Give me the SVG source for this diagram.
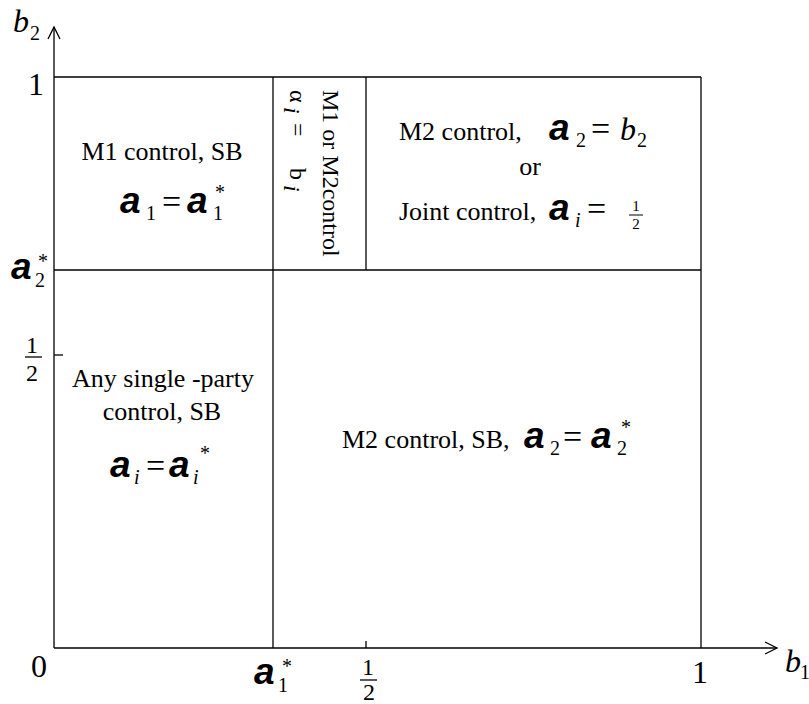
<svg xmlns="http://www.w3.org/2000/svg" width="809" height="704" viewBox="0 0 809 704">
<style>
.t{font-family:"Liberation Serif","Times New Roman","DejaVu Serif",serif;font-size:26px;fill:#000}
.ax{font-family:"Liberation Serif","Times New Roman",serif;font-size:32px;fill:#000}
.it{font-style:italic}
.m{font-family:"Liberation Sans",Arial,sans-serif;font-weight:bold;font-style:italic;font-size:37px;fill:#000}
.sub{font-family:"Liberation Serif","Times New Roman",serif;font-size:20px;fill:#000}
.eq{font-family:"Liberation Serif","Times New Roman",serif;font-size:34px;fill:#000}
.fr{font-family:"Liberation Serif","Times New Roman",serif;font-size:24px;fill:#000}
.ln{fill:none;stroke:#000;stroke-width:1.3}
</style>
<defs>
<marker id="arr" markerUnits="userSpaceOnUse" markerWidth="16" markerHeight="16" viewBox="-14 -8 16 16" refX="0" refY="0" orient="auto">
<path d="M-12,-6 L0,0 L-12,6" fill="none" stroke="#000" stroke-width="1.3"/>
</marker>
</defs>
<rect width="809" height="704" fill="#fff"/>
<g id="connectors">
<line class="ln" x1="54" y1="648" x2="54" y2="27" marker-end="url(#arr)"/>
<line class="ln" x1="54" y1="648" x2="777" y2="648" marker-end="url(#arr)"/>
<line class="ln" x1="54" y1="77" x2="701" y2="77" stroke="#333"/>
<line class="ln" x1="701" y1="77" x2="701" y2="648"/>
<line class="ln" x1="54" y1="270" x2="701" y2="270"/>
<line class="ln" x1="273" y1="77" x2="273" y2="648"/>
<line class="ln" x1="366" y1="77" x2="366" y2="270"/>
<line class="ln" x1="54" y1="355" x2="63" y2="355"/>
<line class="ln" x1="366" y1="641" x2="366" y2="648"/>
</g>
<g id="axis-labels">
<text class="ax it" x="13" y="32">b</text><text class="sub" x="30" y="40">2</text>
<text class="ax" x="28" y="95">1</text>
<text class="m" x="11" y="279">a</text><text class="sub" x="35" y="287">2</text><text class="sub" x="38" y="268">*</text>
<text class="fr" x="26" y="353">1</text>
<line class="ln" x1="25" y1="357" x2="42" y2="357"/>
<text class="fr" x="26" y="381">2</text>
<text class="ax" x="31" y="677">0</text>
<text class="m" x="254" y="684">a</text><text class="sub" x="278" y="692">1</text><text class="sub" x="282" y="673">*</text>
<text class="fr" x="362" y="675" font-size="22">1</text>
<line class="ln" x1="360" y1="680" x2="377" y2="680"/>
<text class="fr" x="363" y="700" font-size="20">2</text>
<text class="ax" x="692" y="683">1</text>
<text class="ax it" x="785" y="672">b</text><text class="sub" x="800" y="679" font-size="17">1</text>
</g>
<g id="region-m1">
<text class="t" x="162" y="160" text-anchor="middle" font-size="27">M1 control, SB</text>
<text class="m" x="120" y="213">a</text><text class="sub" x="146" y="220">1</text>
<text class="eq" x="162" y="213">=</text>
<text class="m" x="187" y="213">a</text><text class="sub" x="213" y="220">1</text><text class="sub" x="215" y="199">*</text>
</g>
<g id="region-mid">
<text class="fr" transform="translate(323,90) rotate(90)">M1 or M2control</text>
<g transform="translate(290,90) rotate(90)">
<text class="fr" font-size="28" x="0" y="0">α</text>
<text class="fr" font-size="15" font-style="italic" x="17" y="6">i</text>
<text class="fr" font-size="28" x="33" y="0">=</text>
<text class="fr" font-size="28" x="78" y="0">b</text>
<text class="fr" font-size="15" font-style="italic" x="95" y="6">i</text>
</g>
</g>
<g id="region-m2-joint">
<text class="t" x="399" y="140">M2 control,</text>
<text class="m" x="549" y="140">a</text><text class="sub" x="576" y="147">2</text>
<text class="eq" x="591" y="140">=</text>
<text class="ax it" x="620" y="140">b</text><text class="sub" x="637" y="147">2</text>
<text class="t" x="530" y="175" text-anchor="middle">or</text>
<text class="t" x="399" y="220">Joint control,</text>
<text class="m" x="549" y="220">a</text><text class="sub it" x="575" y="227">i</text>
<text class="eq" x="587" y="220">=</text>
<text font-family="Liberation Serif, serif" font-size="15" x="636" y="211" text-anchor="middle">1</text>
<line x1="629" y1="215" x2="643" y2="215" stroke="#000" stroke-width="1"/>
<text font-family="Liberation Serif, serif" font-size="15" x="636" y="229" text-anchor="middle">2</text>
</g>
<g id="region-any">
<text class="t" x="163" y="387" text-anchor="middle">Any single -party</text>
<text class="t" x="162" y="420" text-anchor="middle">control, SB</text>
<text class="m" x="110" y="477">a</text><text class="sub it" x="134" y="484">i</text>
<text class="eq" x="146" y="477">=</text>
<text class="m" x="169" y="477">a</text><text class="sub it" x="193" y="484">i</text><text class="sub" x="200" y="460">*</text>
</g>
<g id="region-m2sb">
<text class="t" x="342" y="448">M2 control, SB,</text>
<text class="m" x="524" y="448">a</text><text class="sub" x="550" y="455">2</text>
<text class="eq" x="563" y="448">=</text>
<text class="m" x="591" y="448">a</text><text class="sub" x="617" y="455">2</text><text class="sub" x="621" y="434">*</text>
</g>
</svg>
